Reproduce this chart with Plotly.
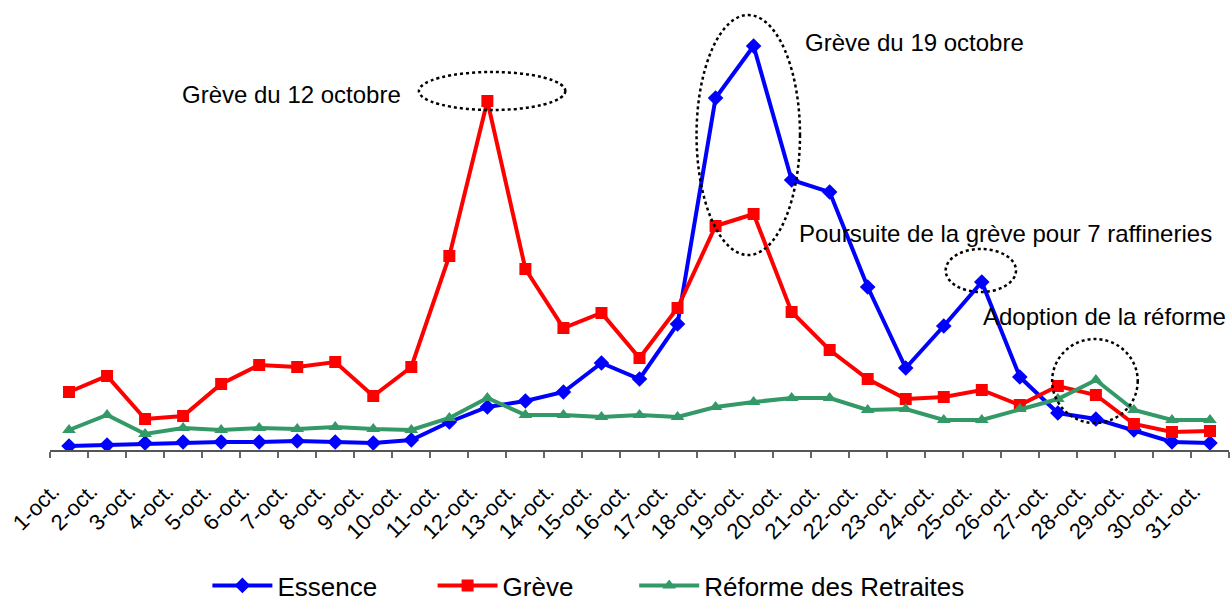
import plotly.graph_objects as go

days = [f"{d}-oct." for d in range(1, 32)]

essence = [4, 5, 7, 8, 8, 8, 9, 8, 7, 10, 28, 43, 49, 58, 87, 71, 126, 352, 404, 270,
           258, 163, 82, 124, 168, 73, 37, 31, 20, 8, 7]
greve = [58, 74, 31, 34, 66, 85, 83, 88, 54, 83, 194, 349, 181, 122, 137, 92, 142, 224, 236, 138,
         100, 71, 51, 53, 60, 45, 64, 55, 26, 18, 19]
reforme = [20, 35, 16, 22, 20, 22, 21, 23, 21, 20, 32, 52, 35, 35, 33, 35, 33, 43, 48, 52,
           52, 40, 41, 30, 30, 41, 51, 70, 40, 30, 30]

names = ["Essence", "Grève", "Réforme des Retraites"]
colors = ["#0000FF", "#FF0000", "#339966"]
symbols = ["diamond", "square", "triangle-up"]
sizes = [12, 12, 12]

notes = ["Grève du 12 octobre", "Grève du 19 octobre",
         "Poursuite de la grève pour 7 raffineries", "Adoption de la réforme"]

FONT = "Liberation Sans, Arial, sans-serif"

fig = go.Figure()
legend_x = [0.1335, 0.3245, 0.4955]
for i, (nm, vals) in enumerate(zip(names, [essence, greve, reforme])):
    leg = "legend" if i == 0 else f"legend{i+1}"
    fig.add_trace(go.Scatter(
        x=days, y=vals, name=nm, mode="lines+markers",
        line=dict(color=colors[i], width=4),
        marker=dict(symbol=symbols[i], size=sizes[i], color=colors[i]),
        legend=leg,
    ))

legend_common = dict(orientation="h", yanchor="middle", xanchor="left",
                     font=dict(family=FONT, size=26, color="#000"),
                     bgcolor="rgba(0,0,0,0)", itemwidth=60)
LY = -0.308
fig.update_layout(
    legend=dict(x=legend_x[0], y=LY, **legend_common),
    legend2=dict(x=legend_x[1], y=LY, **legend_common),
    legend3=dict(x=legend_x[2], y=LY, **legend_common),
)

# dotted ellipses (positions in axis units)
ellipses = [(9.2, 13.05, 340, 378), (16.5, 19.22, 195, 435),
            (23.05, 24.9, 158, 201), (25.85, 28.1, 27, 111)]
for x0, x1, y0, y1 in ellipses:
    fig.add_shape(type="circle", xref="x", yref="y", x0=x0, x1=x1, y0=y0, y1=y1,
                  line=dict(color="black", width=2.5, dash="dot"))

note_pos = [(2.92, 356), (19.3, 408), (19.14, 217), (23.97, 134)]
for t, (xp, yp) in zip(notes, note_pos):
    fig.add_annotation(x=xp, y=yp, xref="x", yref="y", text=t, showarrow=False,
                       xanchor="left", yanchor="middle",
                       font=dict(family=FONT, size=24, color="#000"))

fig.update_layout(
    width=1231, height=605,
    margin=dict(l=50, r=2, t=10, b=155, autoexpand=False),
    paper_bgcolor="white", plot_bgcolor="white",
    font=dict(family=FONT, color="#000"),
    showlegend=True,
    xaxis=dict(type="category", range=[-0.5, 30.5], tickangle=-45,
               showline=True, linecolor="#555", linewidth=1.5,
               ticks="outside", ticklen=6, tickcolor="#666", tickwidth=1.5,
               tickson="boundaries", showgrid=False, zeroline=False,
               automargin=False, ticklabelstandoff=18, ticklabelshift=-16,
               tickfont=dict(family=FONT, size=22, color="#000")),
    yaxis=dict(range=[0, 440], visible=False, showgrid=False, zeroline=False,
               automargin=False),
)

fig.write_html("out.html", config={"displayModeBar": False},
               post_script="document.body.style.margin='0';document.body.style.overflow='hidden';")
